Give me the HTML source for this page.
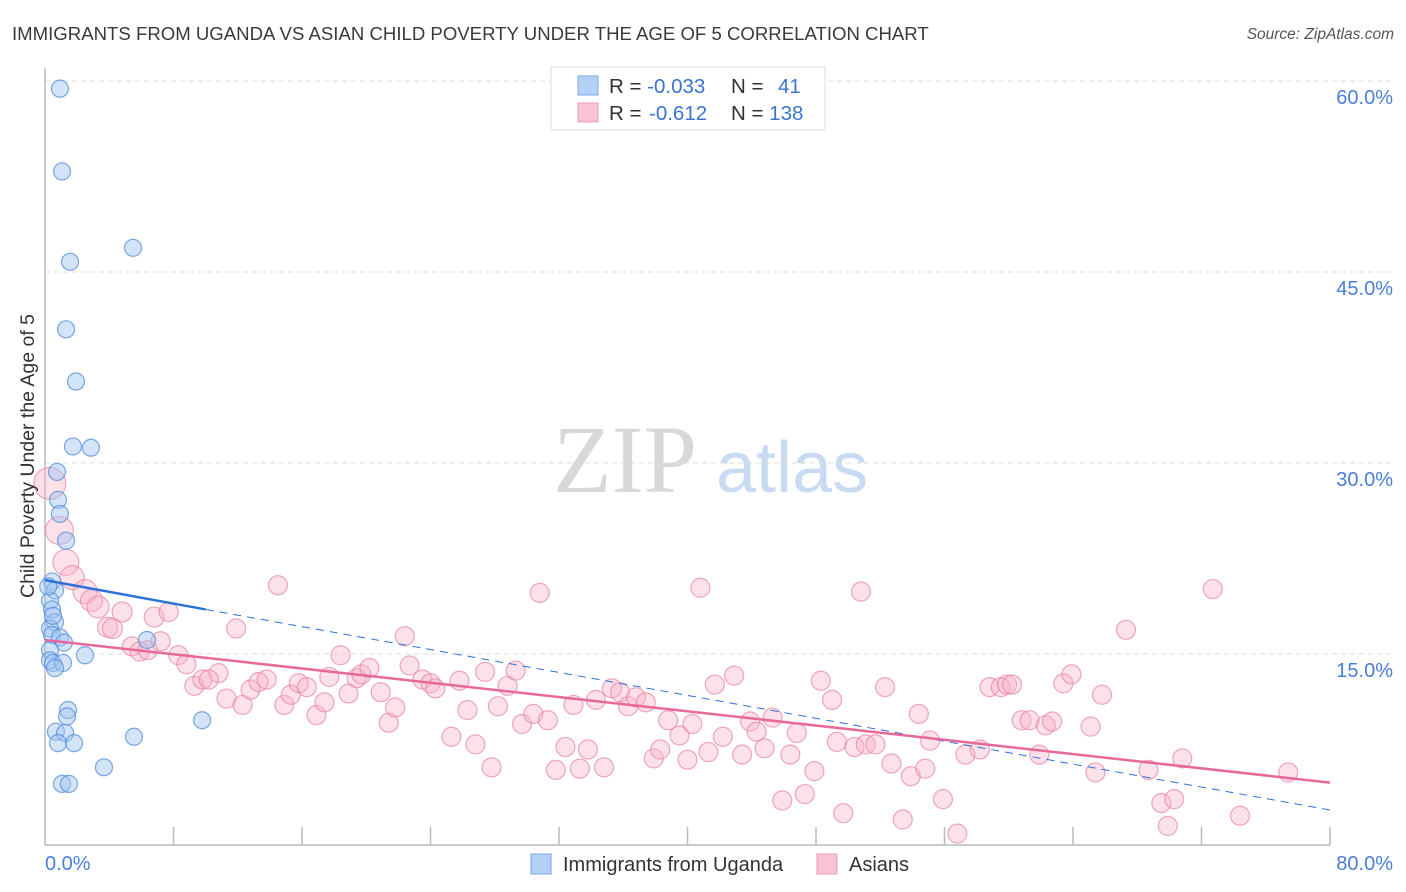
<!DOCTYPE html>
<html><head><meta charset="utf-8"><style>
body{margin:0;background:#fff;font-family:"Liberation Sans",sans-serif;}
svg{display:block}
</style></head><body>
<svg id="chart" width="1406" height="892">
<text x="12" y="40" font-size="18.6" fill="#3a3a3a">IMMIGRANTS FROM UGANDA VS ASIAN CHILD POVERTY UNDER THE AGE OF 5 CORRELATION CHART</text>
<text x="1394" y="39" font-size="15.5" fill="#555" font-style="italic" text-anchor="end">Source: ZipAtlas.com</text>
<g>
<text x="553" y="492" font-size="96" fill="#d8d8d8" font-family="Liberation Serif,serif">ZIP</text>
<text x="716" y="492" font-size="72" fill="#c9dbf3">atlas</text>
</g>
<g id="grid"></g>
<g id="axes"></g>
<g id="pts"></g>
<g id="lines"></g>
<text transform="translate(34,456) rotate(-90)" font-size="19.5" fill="#333" text-anchor="middle">Child Poverty Under the Age of 5</text>
<g>
<rect x="551" y="67" width="274" height="63" fill="#fff" stroke="#ddd"/>
<rect x="578" y="76" width="20" height="19" fill="#b4d0f5" stroke="#7aa8e6"/>
<rect x="578" y="103" width="20" height="19" fill="#f8c4d4" stroke="#ee9ab5"/>
<text x="609" y="93" font-size="20.5" fill="#333">R = <tspan fill="#3a76d0">-0.033</tspan></text>
<text x="731" y="93" font-size="20.5" fill="#333">N = <tspan fill="#3a76d0" x="778">41</tspan></text>
<text x="609" y="120" font-size="20.5" fill="#333">R = <tspan fill="#3a76d0" x="649">-0.612</tspan></text>
<text x="731" y="120" font-size="20.5" fill="#333">N = <tspan fill="#3a76d0">138</tspan></text>
</g>
<g>
<rect x="531" y="854" width="20" height="20" fill="#b4d0f5" stroke="#7aa8e6"/>
<text x="563" y="871" font-size="20" fill="#333">Immigrants from Uganda</text>
<rect x="817" y="854" width="20" height="20" fill="#f8c4d4" stroke="#ee9ab5"/>
<text x="849" y="871" font-size="20" fill="#333">Asians</text>
</g>
</svg>
<script>
const yTicks=[15,30,45,60];
const yTickLabels=["15.0%","30.0%","45.0%","60.0%"];
const xTickCount=10;
const xLabels=["0.0%","80.0%"];
const blueX=[0.93,1.06,1.56,5.48,1.31,1.93,1.74,2.86,0.75,0.81,0.93,1.31,0.44,0.62,0.31,0.44,0.62,0.31,0.44,0.93,1.18,6.35,0.31,0.31,0.5,1.12,2.49,0.62,1.43,1.37,0.68,1.25,0.81,1.81,5.54,9.78,3.67,1.06,1.49,0.2,0.5];
const blueY=[59.4,52.9,45.8,46.9,40.5,36.4,31.3,31.2,29.3,27.1,26.0,23.9,20.7,20.0,19.2,18.5,17.5,17.0,16.5,16.3,15.9,16.1,15.3,14.5,14.3,14.3,14.9,13.9,10.6,10.1,8.9,8.8,8.0,8.0,8.5,9.8,6.1,4.8,4.8,20.3,18.0];
const pinkX=[0.3,0.9,1.3,1.7,2.5,2.9,3.3,4.8,3.9,4.2,6.8,7.7,5.4,5.9,6.4,7.2,8.3,8.8,9.3,9.8,10.8,10.2,11.3,11.9,12.3,12.8,13.3,13.8,14.5,14.9,15.3,15.8,16.3,16.9,17.4,17.7,18.4,18.9,19.4,19.7,20.2,20.9,21.4,21.8,22.4,22.7,23.5,24.0,24.3,25.3,25.8,26.3,26.8,27.4,27.8,28.2,28.8,29.3,29.7,30.4,30.8,31.3,31.8,32.4,32.9,33.3,33.8,34.3,34.8,35.3,35.8,36.3,36.8,37.4,37.9,38.3,38.8,39.5,40.0,40.3,40.8,41.3,41.7,42.2,42.9,43.4,43.9,44.3,44.8,45.3,45.9,46.4,46.8,47.3,47.9,48.3,49.0,49.3,49.7,50.4,50.8,51.1,51.7,52.3,52.7,53.4,53.9,54.4,54.8,55.1,55.9,56.8,57.3,58.2,58.8,59.5,59.9,60.2,60.8,61.3,61.9,62.3,62.7,63.4,63.9,65.1,65.4,65.8,67.3,68.7,69.5,69.9,70.3,70.8,72.7,74.4,77.4];
const pinkY=[28.4,24.7,22.2,21.0,19.9,19.2,18.7,18.3,17.1,17.0,17.9,18.3,15.6,15.2,15.3,16.0,14.9,14.2,12.5,13.0,13.5,13.0,11.5,17.0,11.0,12.2,12.8,13.0,20.4,11.0,11.8,12.7,12.4,10.2,11.2,13.2,14.9,11.9,13.1,13.4,13.9,12.0,9.6,10.8,16.4,14.1,13.0,12.7,12.3,8.5,12.9,10.6,7.9,13.6,6.1,10.9,12.5,13.7,9.5,10.3,19.8,9.8,5.9,7.7,11.0,6.0,7.5,11.4,6.1,12.3,12.0,10.9,11.6,11.2,6.8,7.5,9.8,8.6,6.7,9.5,20.2,7.3,12.6,8.5,13.3,7.1,9.7,8.9,7.6,10.0,3.5,7.1,8.8,4.0,5.8,12.9,11.4,8.1,2.5,7.7,19.9,7.9,7.9,12.4,6.4,2.0,5.4,10.3,6.0,8.2,3.6,0.9,7.1,7.5,12.4,12.4,12.6,12.6,9.8,9.8,7.1,9.4,9.7,12.7,13.4,9.3,5.7,11.8,16.9,5.9,3.3,1.5,3.6,6.8,20.1,2.3,5.7];
const pinkBig=[16,14,13,12,12,11,11,10,10,10,10,9.5];
const blueTrendX=[0,10,80];
const blueTrendY=[20.8,18.5,2.75];
const pinkTrendX=[0,80];
const pinkTrendY=[16.1,4.9];

const X0=45,X1=1330,Y0=845,PX=(X1-X0)/80,PY=191/15;
const sx=v=>X0+v*PX, sy=v=>Y0-v*PY;
const NS="http://www.w3.org/2000/svg";
function mk(tag,attrs,parent){const e=document.createElementNS(NS,tag);for(const k in attrs)e.setAttribute(k,attrs[k]);parent.appendChild(e);return e;}
const grid=document.getElementById('grid'),axes=document.getElementById('axes'),pts=document.getElementById('pts'),lines=document.getElementById('lines');
yTicks.forEach((t,i)=>{
 const l=mk('line',{x1:X0,x2:1394,y1:sy(t),y2:sy(t),stroke:'#dcdcdc','stroke-dasharray':'5,4'},grid);
 
 
 const tx=mk('text',{x:1393,y:sy(t)+23,'font-size':20,fill:'#4a7fd8','text-anchor':'end'},axes);
 tx.textContent=yTickLabels[i];
 
 
});
const ya=mk('line',{x1:X0,x2:X0,y1:68,y2:Y0,stroke:'#bbb','stroke-width':1.5},axes);


const xa=mk('line',{x1:X0,x2:X1,y1:Y0,y2:Y0,stroke:'#bbb','stroke-width':1.5},axes);


for(let i=1;i<=xTickCount;i++){
 const t=mk('line',{x1:sx(i*8),x2:sx(i*8),y1:Y0,y2:Y0-18,stroke:'#bbb','stroke-width':1.5},axes);
 
 
}
const xl0=mk('text',{x:45,y:870,'font-size':20,fill:'#4a7fd8'},axes);xl0.textContent=xLabels[0];


const xl1=mk('text',{x:1393,y:870,'font-size':20,fill:'#4a7fd8','text-anchor':'end'},axes);xl1.textContent=xLabels[1];


pinkX.forEach((v,i)=>{
 const c=mk('circle',{cx:sx(v),cy:sy(pinkY[i]),r:pinkBig[i]||9.5,fill:'rgba(246,176,198,0.38)',stroke:'rgba(234,130,166,0.7)','stroke-width':1.2},pts);
 
 
});
blueX.forEach((v,i)=>{
 const c=mk('circle',{cx:sx(v),cy:sy(blueY[i]),r:8.5,fill:'rgba(160,196,240,0.45)',stroke:'rgba(80,140,220,0.75)','stroke-width':1.2},pts);
 
 
});
const bs=mk('line',{x1:sx(blueTrendX[0]),y1:sy(blueTrendY[0]),x2:sx(blueTrendX[1]),y2:sy(blueTrendY[1]),stroke:'#2a72d8','stroke-width':2.5},lines);


const bd=mk('line',{x1:sx(blueTrendX[1]),y1:sy(blueTrendY[1]),x2:sx(blueTrendX[2]),y2:sy(blueTrendY[2]),stroke:'#2a72d8','stroke-width':1,'stroke-dasharray':'8,6'},lines);


const pl=mk('line',{x1:sx(pinkTrendX[0]),y1:sy(pinkTrendY[0]),x2:sx(pinkTrendX[1]),y2:sy(pinkTrendY[1]),stroke:'#e8689a','stroke-width':2.5},lines);


</script>
</body></html>
